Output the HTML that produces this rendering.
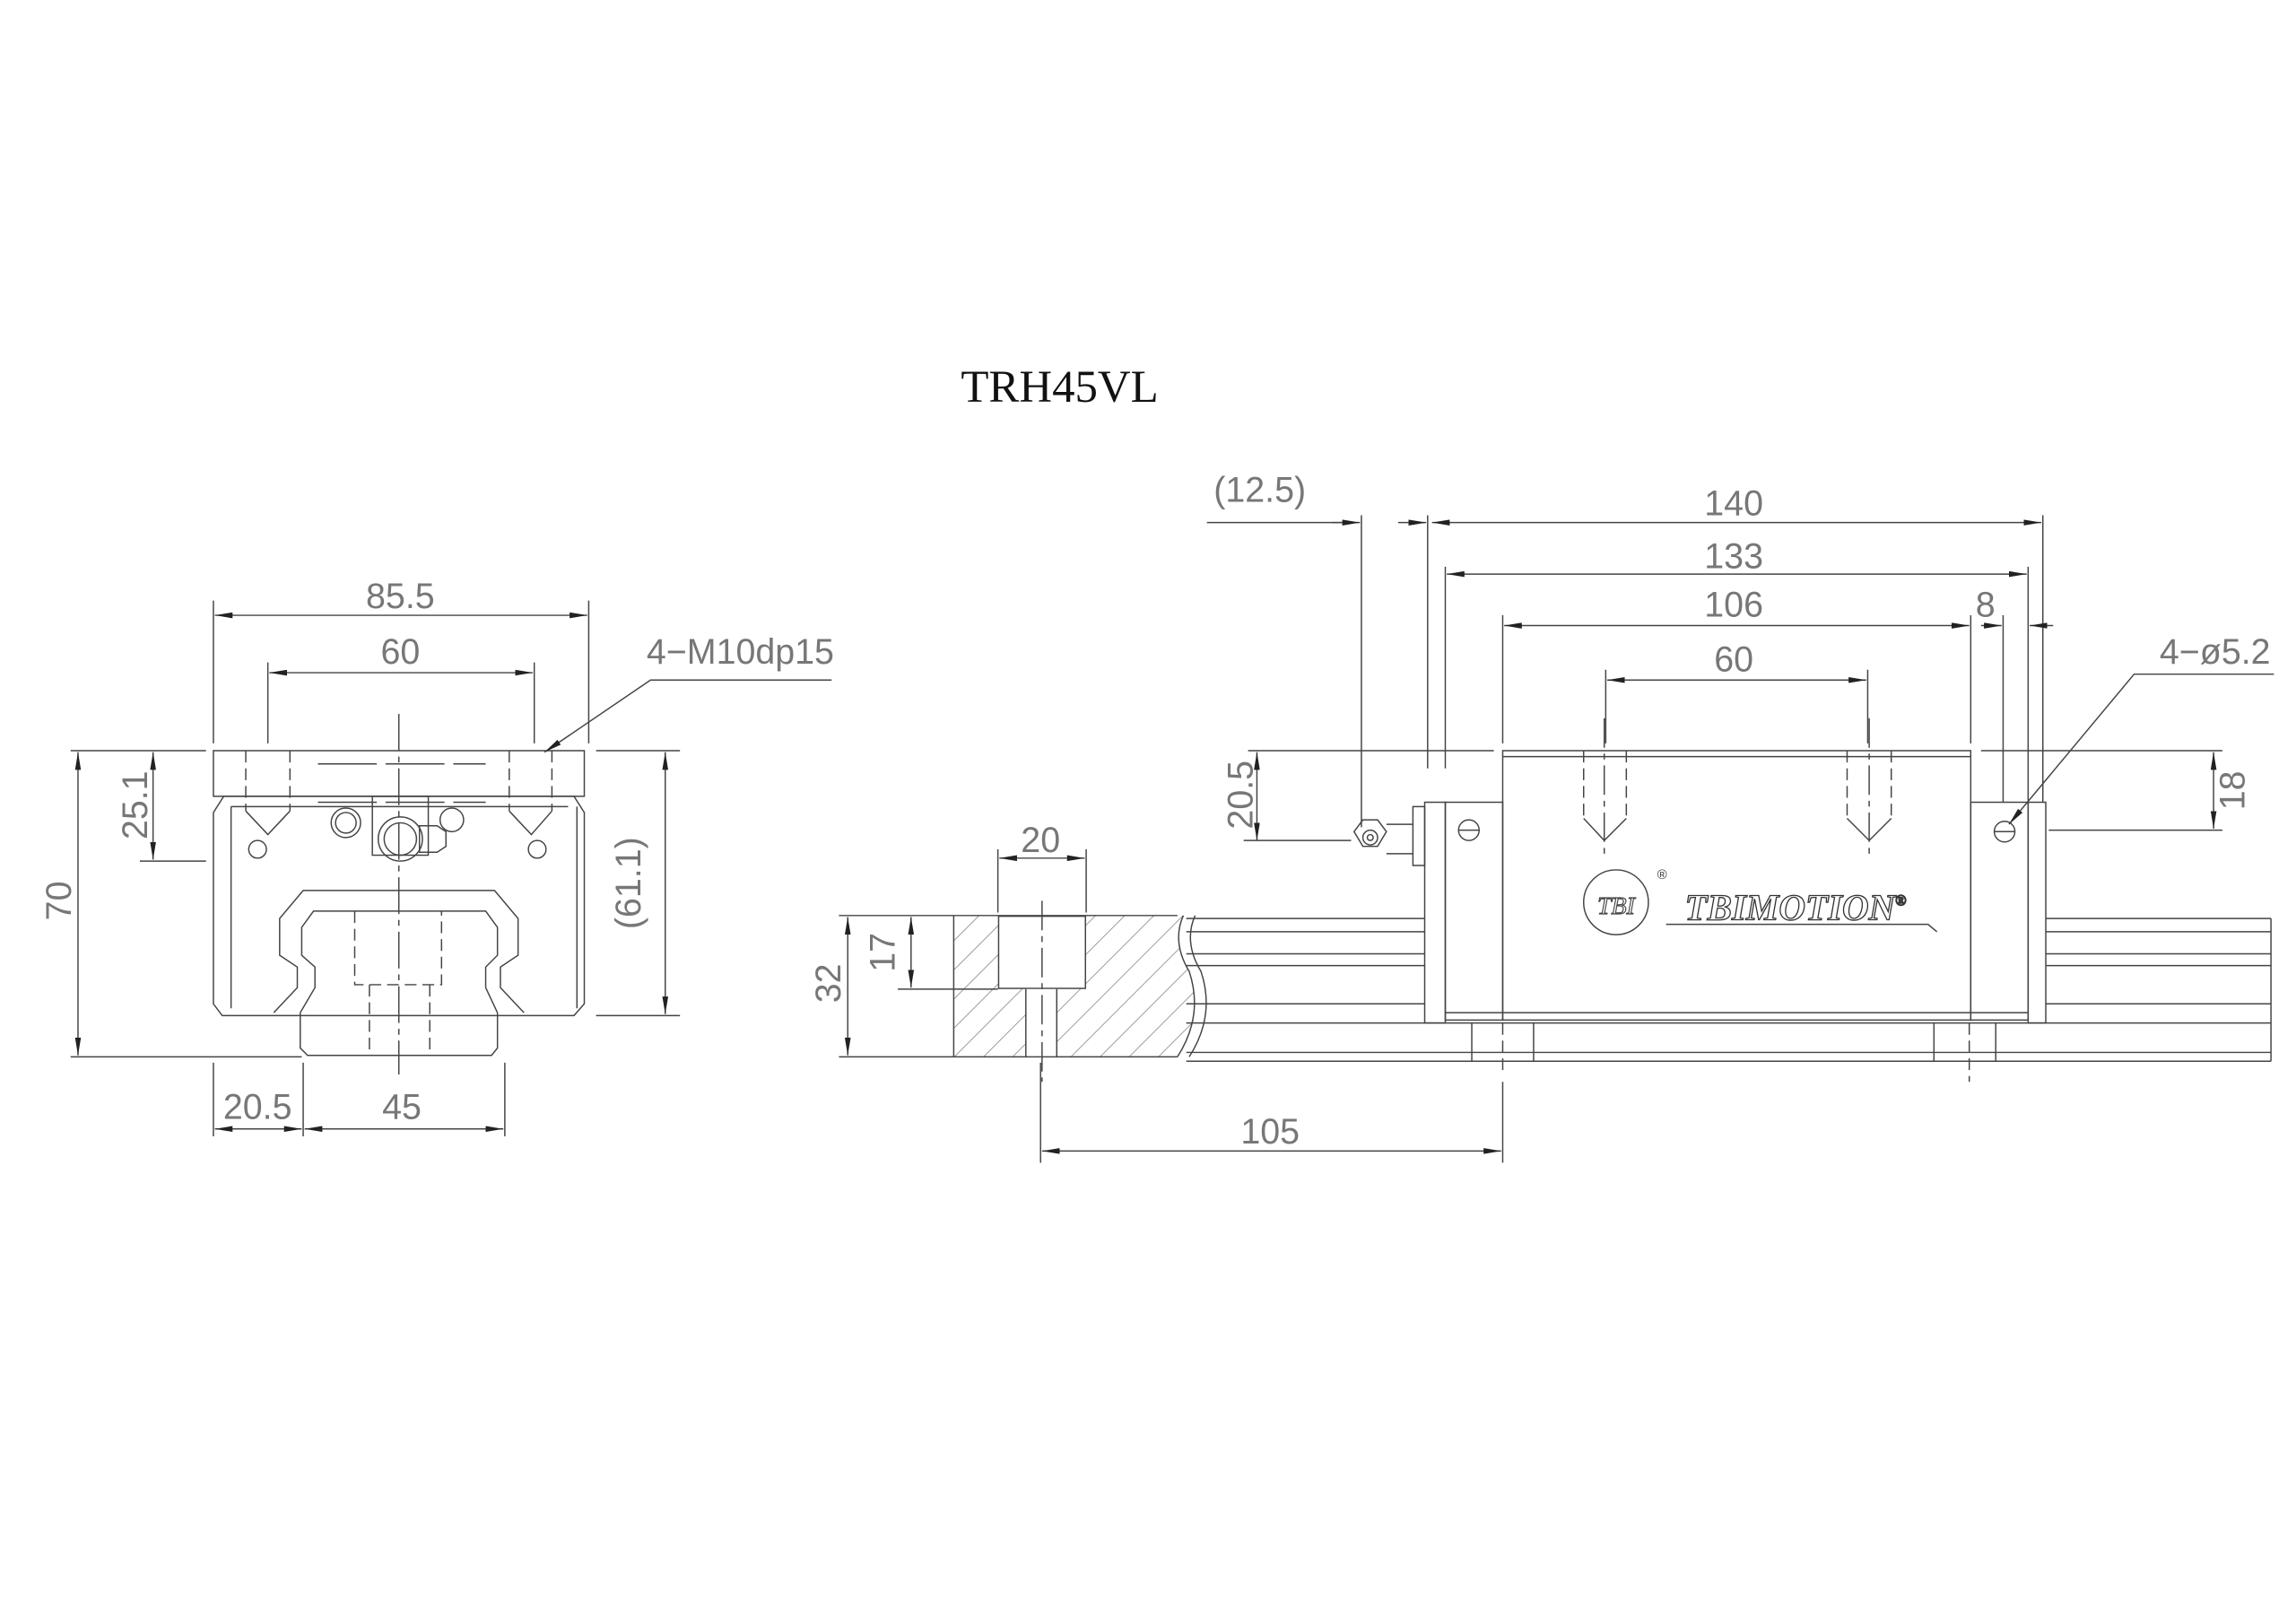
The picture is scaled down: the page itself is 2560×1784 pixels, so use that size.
<!DOCTYPE html>
<html><head><meta charset="utf-8"><style>
html,body{margin:0;padding:0;background:#fff}
svg{display:block}
.d{font-family:"Liberation Sans",sans-serif;font-size:24px;fill:#777;}
</style></head><body>
<svg width="2560" height="1784" viewBox="0 0 1560 1087" xmlns="http://www.w3.org/2000/svg">
<defs>
<marker id="a" viewBox="0 0 12 4" refX="12" refY="2" markerWidth="12" markerHeight="4" markerUnits="userSpaceOnUse" orient="auto-start-reverse"><path d="M0,0 L12,2 L0,4z" fill="#222"/></marker>
<pattern id="h" width="14" height="14" patternUnits="userSpaceOnUse" patternTransform="rotate(45)"><line x1="0" y1="0" x2="0" y2="14" stroke="#666" stroke-width="0.8"/></pattern>
</defs>
<rect width="1560" height="1087" fill="#fff"/>
<text x="720" y="273" font-family="Liberation Serif,serif" font-size="31" text-anchor="middle" fill="#111">TRH45VL</text>

<g fill="none" stroke="#444" stroke-width="0.9">
<!-- LEFT VIEW -->
<path d="M145,510 H397 V541 H145Z"/>
<path d="M152,541 L145,552 V682 L151,690 H390 L397,682 V552 L390,541Z"/>
<path d="M157,548 V685 M392,548 V685 M157,548 H386"/>
<path d="M186,688 L202,671 V657 L190,649 V624 L206,605 H336 L352,624 V649 L340,657 V671 L356,688"/>
<path d="M204,688 L214,671 V657 L205,649 V630 L213,619 H330 L338,630 V649 L330,657 V671 L338,688"/>
<path d="M204,688 V712 L209,717 H334 L338,712 V688"/>
<path d="M216,519 H330 M216,545 H330" stroke-dasharray="40,6"/>
<g stroke-dasharray="8,4">
<path d="M167,510 V551 M197,510 V551 M346,510 V551 M375,510 V551 M241,619 V669 H300 V619 M251,669 V717 M292,669 V717"/>
</g>
<path d="M167,551 L182,567 L197,551 M346,551 L361,567 L375,551"/>
<circle cx="175" cy="577" r="6"/><circle cx="365" cy="577" r="6"/>
<circle cx="235" cy="559" r="10"/><circle cx="235" cy="559" r="7"/>
<circle cx="307" cy="557" r="8"/>
<rect x="253" y="541" width="38" height="40"/>
<circle cx="272" cy="570" r="15"/><circle cx="272" cy="570" r="11"/>
<path d="M285,561 h12 l6,4 v10 l-6,4 h-12z"/>
<path d="M271,485 V730" stroke-dasharray="25,4,4,4"/>
<!-- dims left -->
<path d="M145,408 V505 M400,408 V505 M182,450 V505 M363,450 V505"/>
<g marker-start="url(#a)" marker-end="url(#a)">
<line x1="146" y1="418" x2="399" y2="418"/>
<line x1="183" y1="457" x2="362" y2="457"/>
<line x1="53" y1="511" x2="53" y2="717"/>
<line x1="104" y1="511" x2="104" y2="584"/>
<line x1="452" y1="511" x2="452" y2="689"/>
<line x1="146" y1="767" x2="205" y2="767"/>
<line x1="207" y1="767" x2="342" y2="767"/>
</g>
<path d="M48,510 H140 M48,718 H205 M95,585 H140 M405,510 H462 M405,690 H462 M145,722 V772 M206,722 V772 M343,722 V772"/>
<path d="M565,462 H442 L370,511" marker-end="url(#a)"/>

<!-- RIGHT VIEW -->
<path d="M648,622 H804 Q796,640 808,660 Q818,690 800,718 H648Z" fill="url(#h)" stroke="none"/>
<path d="M648,622 H800 M648,718 H800 M648,622 V718"/>
<rect x="678.5" y="622.5" width="59" height="49" fill="#fff" stroke="#444"/>
<rect x="697.5" y="672" width="20.5" height="45.5" fill="#fff" stroke="none"/>
<path d="M697,672 V718 M718,672 V718"/>
<path d="M708,612 V735" stroke-dasharray="20,4,4,4"/>
<path d="M804,622 Q796,640 808,660 Q818,690 800,718 M812,622 Q804,640 816,660 Q826,690 808,718"/>
<path d="M806,624 H968 M806,633 H968 M806,648 H968 M806,656 H968 M806,682 H968 M806,695 H1543 M806,715 H1543 M806,721 H1543 M1390,624 H1543 M1390,633 H1543 M1390,648 H1543 M1390,656 H1543 M1390,682 H1543 M1543,624 V721"/>
<path d="M1000,695 V721 M1042,695 V721 M1314,695 V721 M1356,695 V721"/>
<path d="M1021,695 V730 M1338,695 V735" stroke-dasharray="8,4"/>
<path d="M968,545 H982 V695 H968Z M1378,545 H1390 V695 H1378Z"/>
<path d="M982,545 H1021 V693 H982Z M1339,545 H1378 V693 H1339Z M982,688 H1021 M1339,688 H1378"/>
<path d="M1021,510 H1339 V693 H1021Z M1021,514 H1339 M1021,688 H1339"/>
<path d="M960,548 h8 v40 h-8z"/>
<path d="M920,565 l6,-8 h10 l6,8 l-6,10 h-10z"/><circle cx="931" cy="569" r="5"/><circle cx="931" cy="569" r="2"/>
<path d="M942,560 h18 M942,580 h18"/>
<circle cx="998" cy="564" r="7"/><path d="M991,564 h14"/>
<circle cx="1362" cy="565" r="7"/><path d="M1355,565 h14"/>
<g stroke-dasharray="8,4"><path d="M1076,510 V556 M1105,510 V556 M1255,510 V556 M1285,510 V556"/></g>
<path d="M1076,556 L1090,571 L1105,556 M1255,556 L1270,571 L1285,556"/>
<path d="M1090,488 V583 M1270,488 V583" stroke-dasharray="20,4,4,4"/>
<circle cx="1098" cy="613" r="22"/>
<path d="M1132,628 H1310 l6,5" />
<!-- dims right -->
<path d="M925,350 V562 M970,350 V522 M982,385 V522 M1021,418 V505 M1339,418 V505 M1361,418 V545 M1378,385 V545 M1388,350 V545 M1091,455 V505 M1269,455 V505 M707,722 V790 M1021,735 V790 M678,577 V620 M738,577 V620"/>
<path d="M820,355 H920" />
<line x1="905" y1="355" x2="924" y2="355" marker-end="url(#a)"/>
<line x1="950" y1="355" x2="969" y2="355" marker-end="url(#a)"/>
<g marker-start="url(#a)" marker-end="url(#a)">
<line x1="973" y1="355" x2="1387" y2="355"/>
<line x1="983" y1="390" x2="1377" y2="390"/>
<line x1="1022" y1="425" x2="1338" y2="425"/>
<line x1="1092" y1="462" x2="1268" y2="462"/>
<line x1="708" y1="782" x2="1020" y2="782"/>
<line x1="679" y1="583" x2="737" y2="583"/>
<line x1="854" y1="511" x2="854" y2="571"/>
<line x1="1504" y1="511" x2="1504" y2="563"/>
<line x1="619" y1="623" x2="619" y2="671"/>
<line x1="576" y1="623" x2="576" y2="717"/>
</g>
<line x1="1346" y1="425" x2="1360" y2="425" marker-end="url(#a)"/>
<line x1="1395" y1="425" x2="1379" y2="425" marker-end="url(#a)"/>
<path d="M848,510 H1015 M1346,510 H1510 M845,571 H918 M1392,564 H1510 M570,622 H648 M570,718 H648 M610,672 H678"/>
<path d="M1545,458 H1450 L1365,560" marker-end="url(#a)"/>
</g>

<g class="d" text-anchor="middle">
<text x="272" y="413">85.5</text>
<text x="272" y="451">60</text>
<text x="503" y="451">4−M10dp15</text>
<text transform="translate(48,612) rotate(-90)">70</text>
<text transform="translate(100,547) rotate(-90)">25.1</text>
<text transform="translate(435,600) rotate(-90)">(61.1)</text>
<text x="175" y="760">20.5</text>
<text x="273" y="760">45</text>
<text x="856" y="341">(12.5)</text>
<text x="1178" y="350">140</text>
<text x="1178" y="386">133</text>
<text x="1178" y="419">106</text>
<text x="1349" y="419">8</text>
<text x="1178" y="456">60</text>
<text x="1505" y="451">4−ø5.2</text>
<text transform="translate(851,540) rotate(-90)">20.5</text>
<text transform="translate(1525,537) rotate(-90)">18</text>
<text x="707" y="579">20</text>
<text transform="translate(608,647) rotate(-90)">17</text>
<text transform="translate(571,668) rotate(-90)">32</text>
<text x="863" y="777">105</text>
</g>
<text x="1098" y="621" font-family="Liberation Serif,serif" font-style="italic" font-size="17" text-anchor="middle" fill="none" stroke="#444" stroke-width="0.7">TBI</text>
<text x="1220" y="625" font-family="Liberation Serif,serif" font-style="italic" font-weight="bold" font-size="25" text-anchor="middle" fill="none" stroke="#333" stroke-width="0.8">TBIMOTION<tspan font-size="10" dy="-10">®</tspan></text>
<text x="1126" y="597" font-family="Liberation Sans,sans-serif" font-size="9" fill="#333">®</text>
</svg>
</body></html>
